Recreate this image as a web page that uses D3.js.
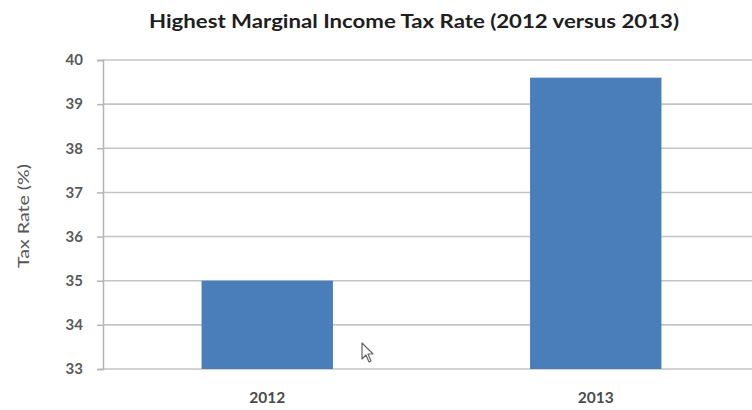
<!DOCTYPE html>
<html>
<head>
<meta charset="utf-8">
<script src="https://cdn.jsdelivr.net/npm/d3@7"></script>
<style>
  html, body { margin: 0; padding: 0; background: #fff; }
  svg { display: block; }
  text { font-family: Lato, "Open Sans", "Liberation Sans", sans-serif; }
</style>
</head>
<body>
<svg id="chart" width="752" height="410"></svg>
<script>
// Top marginal income tax rate by year
const years = ["2012", "2013"];
const rates = [35.0, 39.6];
const yTicks = [33, 34, 35, 36, 37, 38, 39, 40];

const svg = d3.select("#chart");
const margin = { top: 60, right: -8, bottom: 41, left: 103 };
const W = 752, H = 410;

const x = d3.scaleBand()
  .domain(years)
  .range([margin.left, W - margin.right])
  .paddingInner(0.6)
  .paddingOuter(0.3);

const y = d3.scaleLinear()
  .domain([33, 40])
  .range([H - margin.bottom, margin.top]);

// Title
svg.append("text")
  .attr("x", 414)
  .attr("y", 28)
  .attr("text-anchor", "middle")
  .attr("font-size", 19)
  .attr("font-weight", "bold")
  .attr("fill", "#1e1e1e")
  .attr("textLength", 530)
  .attr("lengthAdjust", "spacingAndGlyphs")
  .text("Highest Marginal Income Tax Rate (2012 versus 2013)");

// Horizontal gridlines
svg.append("g")
  .selectAll("line")
  .data(yTicks)
  .join("line")
  .attr("x1", margin.left)
  .attr("x2", W)
  .attr("y1", d => y(d))
  .attr("y2", d => y(d))
  .attr("stroke", "#c4c4c4")
  .attr("stroke-width", 1.6);

// Y axis
const yAxis = svg.append("g")
  .attr("transform", `translate(${margin.left},0)`)
  .call(d3.axisLeft(y).tickValues(yTicks).tickSize(6).tickPadding(14).tickFormat(d3.format("d")));
yAxis.select(".domain").attr("stroke", "#b5b5b5").attr("stroke-width", 1.5);
yAxis.selectAll(".tick line").attr("stroke", "#b5b5b5").attr("stroke-width", 1.5);
yAxis.selectAll(".tick text")
  .attr("font-size", 15)
  .attr("font-weight", "bold")
  .attr("fill", "#5a5a5a")
  .attr("font-family", "Lato, 'Open Sans', sans-serif");

// Bars
svg.append("g")
  .selectAll("rect")
  .data(years.map((yr, i) => ({ yr, v: rates[i] })))
  .join("rect")
  .attr("x", d => x(d.yr))
  .attr("width", x.bandwidth())
  .attr("y", d => y(d.v))
  .attr("height", d => y(33) - y(d.v))
  .attr("fill", "#4a7ebb");

// X axis labels
svg.append("g")
  .selectAll("text")
  .data(years)
  .join("text")
  .attr("x", d => x(d) + x.bandwidth() / 2)
  .attr("y", 403)
  .attr("text-anchor", "middle")
  .attr("font-size", 15.5)
  .attr("font-weight", "bold")
  .attr("fill", "#4a4a4a")
  .text(d => d);

// Y axis title
svg.append("text")
  .attr("transform", "translate(29,216) rotate(-90)")
  .attr("text-anchor", "middle")
  .attr("font-size", 15)
  .attr("fill", "#555")
  .attr("textLength", 104)
  .attr("lengthAdjust", "spacingAndGlyphs")
  .text("Tax Rate (%)");

// Mouse pointer
svg.append("path")
  .attr("d", "M362,343 L362,359 L366,355 L369,362 L371,361 L368,354 L373,354 Z")
  .attr("fill", "#fff")
  .attr("stroke", "#666")
  .attr("stroke-width", 1.2)
  .attr("stroke-linejoin", "round");
</script>
</body>
</html>
